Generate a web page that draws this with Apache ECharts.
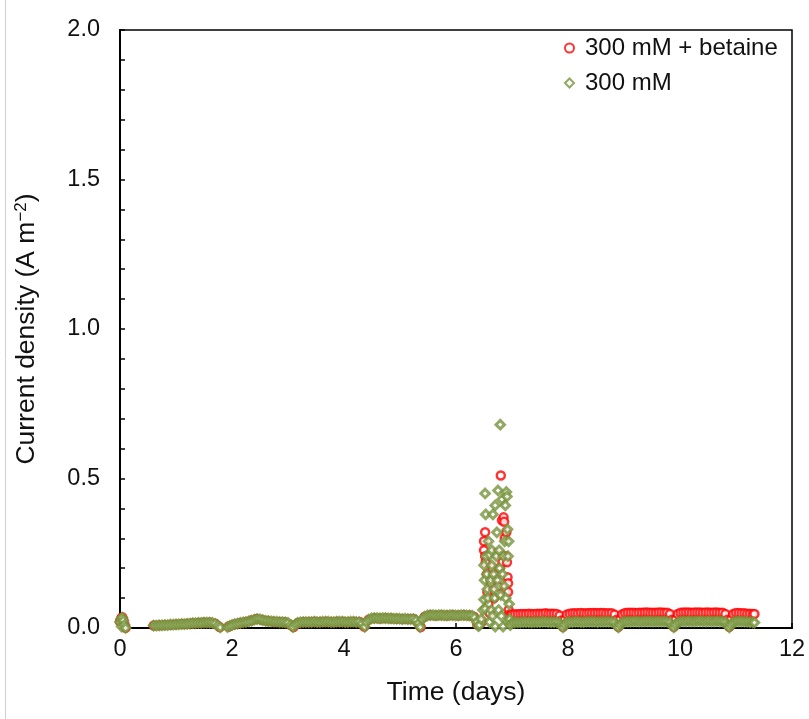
<!DOCTYPE html>
<html>
<head>
<meta charset="utf-8">
<title>Current density</title>
<script src="https://cdn.jsdelivr.net/npm/echarts@6/dist/echarts.min.js"></script>
<style>
  html, body { margin: 0; padding: 0; background: #fff; }
  #chart { width: 809px; height: 719px; }
</style>
</head>
<body>
<div id="chart"></div>
<script>
// Series labels
const seriesNames = ['300 mM + betaine', '300 mM'];

// Axis ticks
const xTicks = [0, 2, 4, 6, 8, 10, 12];
const yTicks = [0.0, 0.5, 1.0, 1.5, 2.0];

// 300 mM (green) - [time (days), current density (A m-2)]
const greenStart = [[0.0,0.02],[0.02,0.03],[0.03,0.005],[0.04,0.035],[0.06,0.025],[0.08,0.01],[0.1,0.0]];
const greenPre = [
  [0.60,.008],[0.65,.008],[0.70,.009],[0.75,.009],[0.80,.010],[0.85,.010],[0.90,.011],[0.95,.011],
  [1.00,.012],[1.05,.012],[1.10,.013],[1.15,.013],[1.20,.014],[1.25,.015],[1.30,.016],[1.35,.016],
  [1.40,.017],[1.45,.017],[1.50,.018],[1.55,.018],[1.60,.018],[1.65,.017],[1.70,.014],[1.75,.008],[1.79,.002],
  [1.92,.003],[1.96,.007],[2.00,.010],[2.05,.013],[2.10,.015],[2.15,.017],[2.20,.019],[2.25,.020],
  [2.30,.022],[2.35,.025],[2.40,.028],[2.45,.030],[2.50,.029],[2.55,.026],[2.60,.024],[2.65,.023],
  [2.70,.022],[2.75,.021],[2.80,.021],[2.85,.020],[2.90,.020],[2.95,.019],[3.00,.017],[3.05,.010],[3.09,.003],
  [3.13,.012],[3.17,.017],[3.22,.019],[3.27,.020],[3.32,.020],[3.37,.020],[3.42,.020],[3.47,.021],
  [3.52,.020],[3.57,.020],[3.62,.021],[3.67,.021],[3.72,.021],[3.77,.020],[3.82,.020],[3.87,.021],
  [3.92,.021],[3.97,.021],[4.02,.020],[4.07,.020],[4.12,.021],[4.17,.021],[4.22,.020],[4.27,.020],
  [4.32,.015],[4.37,.004],
  [4.40,.020],[4.44,.028],[4.49,.032],[4.54,.033],[4.59,.033],[4.64,.032],[4.69,.033],[4.74,.033],
  [4.79,.032],[4.84,.032],[4.89,.031],[4.94,.031],[4.99,.031],[5.04,.030],[5.09,.031],[5.14,.030],
  [5.19,.030],[5.24,.030],[5.29,.026],[5.33,.015],[5.36,.003],
  [5.40,.030],[5.44,.038],[5.49,.042],[5.54,.043],[5.59,.043],[5.64,.042],[5.69,.043],[5.74,.043],
  [5.79,.042],[5.84,.042],[5.89,.043],[5.94,.043],[5.99,.042],[6.04,.042],[6.09,.043],[6.14,.043],
  [6.19,.042],[6.24,.042],[6.29,.041],[6.33,.035],[6.37,.020],[6.40,.006]
];
const greenSpike = [
  [6.42,0.01],[6.45,0.03],[6.48,0.06],[6.5,0.095],[6.52,0.065],[6.52,0.45],[6.53,0.38],[6.5,0.21],
  [6.51,0.16],[6.54,0.24],[6.55,0.18],[6.56,0.13],[6.57,0.1],[6.58,0.29],[6.6,0.245],[6.6,0.02],
  [6.62,0.16],[6.63,0.06],[6.64,0.26],[6.64,0.21],[6.65,0.04],[6.66,0.38],[6.67,0.18],[6.68,0.13],
  [6.69,0.1],[6.7,0.41],[6.7,0.005],[6.72,0.24],[6.73,0.32],[6.74,0.16],[6.75,0.46],[6.76,0.06],
  [6.77,0.26],[6.78,0.2],[6.79,0.68],[6.8,0.11],[6.81,0.04],[6.82,0.43],[6.83,0.18],[6.84,0.005],
  [6.85,0.24],[6.86,0.14],[6.87,0.29],[6.88,0.41],[6.89,0.1],[6.9,0.455],[6.91,0.44],[6.92,0.33],
  [6.93,0.24],[6.94,0.29],[6.95,0.08],[6.93,0.02],[6.96,0.03]
];
const greenPost = [
  [6.97,.010],[7.00,.017],[7.05,.018],[7.10,.019],[7.15,.019],[7.20,.020],[7.25,.020],[7.30,.020],
  [7.35,.019],[7.40,.020],[7.45,.020],[7.50,.020],[7.55,.021],[7.60,.021],[7.65,.020],[7.70,.020],
  [7.75,.020],[7.80,.020],[7.85,.017],[7.88,.010],[7.91,.002],[7.94,.012],[7.98,.019],[8.03,.020],
  [8.08,.020],[8.13,.021],[8.18,.021],[8.23,.020],[8.28,.020],[8.33,.021],[8.38,.021],[8.43,.021],
  [8.48,.021],[8.53,.020],[8.58,.021],[8.63,.021],[8.68,.021],[8.73,.021],[8.78,.021],[8.83,.018],
  [8.87,.010],[8.90,.002],[8.93,.012],[8.97,.019],[9.02,.021],[9.07,.021],[9.12,.021],[9.17,.022],
  [9.22,.022],[9.27,.021],[9.32,.021],[9.37,.022],[9.42,.022],[9.47,.022],[9.52,.021],[9.57,.022],
  [9.62,.022],[9.67,.022],[9.72,.022],[9.77,.021],[9.82,.018],[9.86,.010],[9.89,.002],[9.92,.012],
  [9.96,.019],[10.01,.022],[10.06,.022],[10.11,.022],[10.16,.023],[10.21,.022],[10.26,.022],[10.31,.023],
  [10.36,.023],[10.41,.022],[10.46,.022],[10.51,.023],[10.56,.022],[10.61,.022],[10.66,.023],[10.71,.022],
  [10.76,.022],[10.81,.019],[10.85,.011],[10.88,.002],[10.91,.012],[10.95,.019],[11.00,.022],[11.05,.022],
  [11.10,.022],[11.15,.021],[11.20,.021],[11.25,.020],[11.30,.019],[11.33,.018]
];

// 300 mM + betaine (red)
const redStart = [[0.0,0.022],[0.02,0.032],[0.04,0.036],[0.06,0.026],[0.08,0.012],[0.1,0.001]];
const redPre = [
  [0.6,.008],[0.7,.009],[0.8,.010],[0.9,.011],[1.0,.012],[1.1,.013],[1.2,.014],[1.3,.016],
  [1.4,.017],[1.5,.018],[1.6,.018],[1.7,.014],[1.78,.003],[1.94,.005],[2.04,.012],[2.14,.017],
  [2.24,.020],[2.34,.025],[2.44,.030],[2.54,.027],[2.64,.023],[2.74,.021],[2.84,.020],[2.94,.019],
  [3.04,.011],[3.1,.003],[3.18,.017],[3.28,.020],[3.38,.020],[3.48,.021],[3.58,.020],[3.68,.021],
  [3.78,.020],[3.88,.021],[3.98,.021],[4.08,.020],[4.18,.021],[4.28,.020],[4.36,.005],[4.44,.028],
  [4.54,.033],[4.64,.032],[4.74,.033],[4.84,.032],[4.94,.031],[5.04,.030],[5.14,.030],[5.24,.030],
  [5.32,.018],[5.37,.003],[5.44,.038],[5.54,.043],[5.64,.042],[5.74,.043],[5.84,.042],[5.94,.043],
  [6.04,.042],[6.14,.043],[6.24,.042],[6.32,.038],[6.38,.012]
];
const redSpike = [
  [6.46,0.02],[6.5,0.26],[6.5,0.29],[6.52,0.32],[6.52,0.24],[6.53,0.22],[6.55,0.18],[6.56,0.12],
  [6.58,0.08],[6.6,0.05],[6.62,0.15],[6.65,0.2],[6.68,0.1],[6.7,0.25],[6.72,0.18],[6.75,0.14],
  [6.78,0.2],[6.8,0.51],[6.82,0.36],[6.83,0.22],[6.85,0.37],[6.86,0.355],[6.87,0.3],[6.88,0.12],
  [6.89,0.24],[6.9,0.32],[6.91,0.22],[6.92,0.17],[6.93,0.15],[6.93,0.12],[6.94,0.06],[6.95,0.045]
];
const redPost = [
  [6.96,.040],[7.00,.045],[7.05,.046],[7.10,.046],[7.15,.047],[7.20,.047],[7.25,.047],[7.30,.048],
  [7.35,.047],[7.40,.047],[7.45,.048],[7.50,.048],[7.55,.048],[7.60,.049],[7.65,.048],[7.70,.048],
  [7.75,.048],[7.80,.047],[7.85,.042],[7.88,.025],[7.91,.004],[7.94,.028],[7.98,.045],[8.03,.048],
  [8.08,.049],[8.13,.049],[8.18,.049],[8.23,.050],[8.28,.049],[8.33,.049],[8.38,.050],[8.43,.050],
  [8.48,.050],[8.53,.050],[8.58,.050],[8.63,.050],[8.68,.049],[8.73,.049],[8.78,.049],[8.83,.045],
  [8.87,.028],[8.90,.004],[8.93,.028],[8.97,.046],[9.02,.050],[9.07,.051],[9.12,.051],[9.17,.051],
  [9.22,.050],[9.27,.051],[9.32,.051],[9.37,.052],[9.42,.052],[9.47,.051],[9.52,.051],[9.57,.051],
  [9.62,.052],[9.67,.052],[9.72,.051],[9.77,.051],[9.82,.047],[9.86,.028],[9.89,.004],[9.92,.028],
  [9.96,.047],[10.01,.051],[10.06,.052],[10.11,.052],[10.16,.052],[10.21,.051],[10.26,.052],[10.31,.052],
  [10.36,.052],[10.41,.051],[10.46,.052],[10.51,.052],[10.56,.051],[10.61,.052],[10.66,.052],[10.71,.051],
  [10.76,.051],[10.81,.047],[10.85,.028],[10.88,.004],[10.91,.028],[10.95,.047],[11.00,.050],[11.05,.050],
  [11.10,.049],[11.15,.049],[11.20,.048],[11.25,.048],[11.30,.047],[11.33,.047]
];

const redData = [].concat(redStart, redPre, redSpike, redPost);
const greenData = [].concat(greenStart, greenPre, greenSpike, greenPost);

const FONT = "'Liberation Sans', Arial, sans-serif";
const TXT = '#111';

const chart = echarts.init(document.getElementById('chart'));

chart.setOption({
  animation: false,
  textStyle: { fontFamily: FONT },
  graphic: [{
    type: 'line',
    shape: { x1: 5.5, y1: 0, x2: 5.5, y2: 719 },
    style: { stroke: '#d0d0d0', lineWidth: 1 }
  }],
  grid: {
    left: 120, right: 17, top: 30, bottom: 91,
    show: true, borderColor: '#000', borderWidth: 1.5
  },
  legend: {
    orient: 'vertical',
    left: 559, top: 31,
    itemWidth: 9, itemHeight: 9,
    itemGap: 11,
    textStyle: { fontFamily: FONT, fontSize: 24, color: TXT, padding: [0, 0, 0, 6] },
    data: seriesNames
  },
  xAxis: {
    type: 'value',
    min: xTicks[0], max: xTicks[xTicks.length - 1], interval: 2,
    name: 'Time (days)',
    nameLocation: 'middle', nameGap: 51,
    nameTextStyle: { fontFamily: FONT, fontSize: 26.5, color: TXT },
    axisLine: { show: true, onZero: false, lineStyle: { color: '#000', width: 2 } },
    axisTick: { show: true, inside: true, length: 5, lineStyle: { color: '#000', width: 1.5 } },
    axisLabel: { fontFamily: FONT, fontSize: 23.5, color: TXT, margin: 10 },
    splitLine: { show: false }
  },
  yAxis: {
    type: 'value',
    min: yTicks[0], max: yTicks[yTicks.length - 1], interval: 0.1,
    name: 'Current density (A m{sup|−2})',
    nameLocation: 'middle', nameGap: 79,
    nameTextStyle: {
      fontFamily: FONT, fontSize: 26.5, color: TXT,
      rich: { sup: { fontSize: 17, verticalAlign: 'top', fontFamily: FONT, color: TXT, padding: [0, 0, 11, 0] } }
    },
    axisLine: { show: true, onZero: false, lineStyle: { color: '#000', width: 2 } },
    axisTick: { show: true, inside: true, length: 5, lineStyle: { color: '#000', width: 1.5 } },
    axisLabel: {
      fontFamily: FONT, fontSize: 23.5, color: TXT, margin: 20,
      formatter: function (v) {
        const hit = yTicks.find(t => Math.abs(t - v) < 1e-6);
        return hit === undefined ? '' : hit.toFixed(1);
      }
    },
    splitLine: { show: false }
  },
  series: [
    {
      name: seriesNames[0],
      type: 'scatter',
      symbol: 'circle',
      symbolSize: 8,
      data: redData,
      z: 2,
      itemStyle: { color: '#fff', borderColor: '#ff0000', borderWidth: 2.5 }
    },
    {
      name: seriesNames[1],
      type: 'scatter',
      symbol: 'diamond',
      symbolSize: 8.5,
      data: greenData,
      z: 3,
      itemStyle: { color: '#fff', borderColor: '#77933c', borderWidth: 3 }
    }
  ]
});
</script>
</body>
</html>
